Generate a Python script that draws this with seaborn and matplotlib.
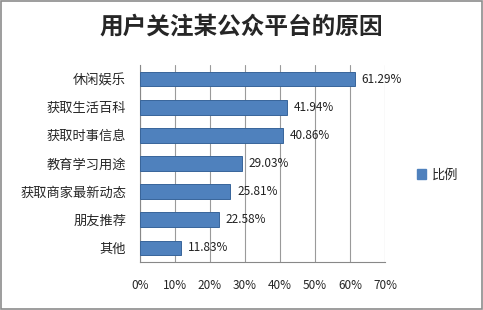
import matplotlib
matplotlib.use("Agg")
import matplotlib.pyplot as plt
import seaborn as sns
import pandas as pd
import numpy as np
from matplotlib.patches import Rectangle

categories = ["休闲娱乐", "获取生活百科", "获取时事信息", "教育学习用途", "获取商家最新动态", "朋友推荐", "其他"]
values = [61.29, 41.94, 40.86, 29.03, 25.81, 22.58, 11.83]
xticks = [0, 10, 20, 30, 40, 50, 60, 70]
xtick_labels = ["0%", "10%", "20%", "30%", "40%", "50%", "60%", "70%"]
title = "用户关注某公众平台的原因"
series_name = "比例"

sns.set_style("white")
plt.rcParams['font.family'] = ['Noto Sans CJK SC', 'DejaVu Sans']

df = pd.DataFrame({"cat": categories, "val": values})

fig = plt.figure(figsize=(4.83, 3.10), dpi=100)
ax = fig.add_axes([140/483, (310-262)/310, 245/483, 197/310])

blue = "#4F81BD"
sns.barplot(data=df, y="cat", x="val", orient="h", color=blue, saturation=1, width=0.52,
            edgecolor="#38659A", linewidth=0.7, ax=ax, zorder=3)

ax.set_xlim(0, 70)
ax.set_ylim(len(categories) - 0.5, -0.5)
ax.set_xticks(xticks)
ax.set_xticklabels(xtick_labels, fontsize=8.5)
ax.set_xlabel("")
ax.set_ylabel("")
ax.tick_params(axis='y', labelsize=9.5, length=0, pad=10)
ax.tick_params(axis='x', length=0, pad=12)
ax.set_yticks(range(len(categories)))
ax.set_yticklabels(categories)
ax.set_yticks(np.arange(-0.5, len(categories), 1), minor=True)
ax.tick_params(axis='y', which='minor', length=4, color="#888888", direction='out')

ax.grid(axis='x', color="#9a9a9a", linewidth=0.8, zorder=0)
for s in ["top", "right"]:
    ax.spines[s].set_visible(False)
for s in ["left", "bottom"]:
    ax.spines[s].set_color("#888888")
    ax.spines[s].set_linewidth(0.8)

for c in ax.containers:
    ax.bar_label(c, labels=[f"{v:.2f}%" for v in values], padding=5, fontsize=8.5, color="#222222")

fig.text(0.5, 1 - 27/310, title, ha="center", va="center", fontsize=17, fontweight="bold")

handle = Rectangle((0, 0), 1, 1, color=blue)
fig.legend([handle], [series_name], loc="center left", bbox_to_anchor=(405/483, 1 - 175/310),
           frameon=False, fontsize=9.5, handlelength=0.7, handleheight=0.7, handletextpad=0.4)

fig.patches.append(Rectangle((0.002, 0.003), 0.995, 0.994, transform=fig.transFigure,
                             fill=False, edgecolor="#8c8c8c", linewidth=1.2))

fig.savefig("out.png", dpi=100)
